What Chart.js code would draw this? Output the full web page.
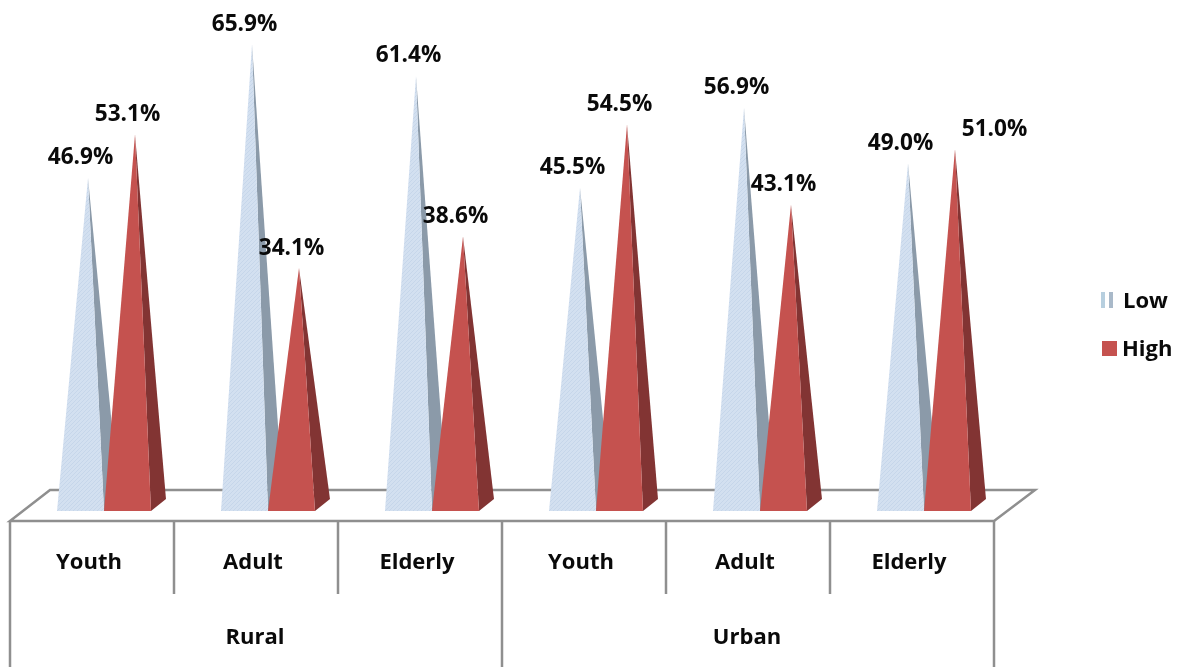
<!DOCTYPE html>
<html>
<head>
<meta charset="utf-8">
<title>Low and High by age group</title>
<script src="https://cdn.jsdelivr.net/npm/chart.js@4"></script>
<style>
    html, body { margin: 0; padding: 0; background: #fff; }
    canvas { display: block; }
</style>
</head>
<body>
<canvas id="chart" width="1182" height="667"></canvas>
<script>
// Data
const ageGroups = ['Youth', 'Adult', 'Elderly', 'Youth', 'Adult', 'Elderly'];
const areas = ['Rural', 'Urban'];
const lowValues = [46.9, 65.9, 61.4, 45.5, 56.9, 49.0];
const highValues = [53.1, 34.1, 38.6, 54.5, 43.1, 51.0];

const FONT_FAMILY = '"Open Sans", sans-serif';
const FONT_SIZE = 22;
const FONT = `bold ${FONT_SIZE}px ${FONT_FAMILY}`;
const VALUE_FONT = `bold 22.6px ${FONT_FAMILY}`;
const FLOOR_COLOR = '#8f8f8f';
const TEXT_COLOR = '#0a0a0a';

// Fine dither used on the light faces
function makeLowFill(ctx) {
    const tile = document.createElement('canvas');
    tile.width = 4;
    tile.height = 4;
    const t = tile.getContext('2d');
    t.fillStyle = '#d3e0f0';
    t.fillRect(0, 0, 4, 4);
    t.fillStyle = '#c6d6ea';
    for (let i = 0; i < 4; i++) {
        t.fillRect(i, (3 - i), 1, 1);
    }
    return ctx.createPattern(tile, 'repeat');
}

// Floor of the 3D box and the two-level category grid
function drawFloor(chart) {
    const { ctx } = chart;
    const x = chart.scales.x;
    const left = x.left;
    const right = x.right;
    const slot = x.width / ageGroups.length;

    ctx.save();
    ctx.strokeStyle = FLOOR_COLOR;
    ctx.lineWidth = 2.5;
    ctx.beginPath();
    ctx.moveTo(left, 521);
    ctx.lineTo(left + 40, 490);
    ctx.lineTo(right + 41, 490);
    ctx.lineTo(right, 521);
    ctx.closePath();
    ctx.stroke();

    ctx.beginPath();
    for (let i = 0; i <= ageGroups.length; i++) {
        const px = left + slot * i;
        const isGroupEdge = i % 3 === 0;
        ctx.moveTo(px, 521);
        ctx.lineTo(px, isGroupEdge ? 667 : 594);
    }
    ctx.stroke();
    ctx.restore();
}

// Each bar is replaced by a pyramid standing on the floor
function drawPyramids(chart) {
    const { ctx } = chart;
    const lowFill = makeLowFill(ctx);
    const styles = [
        { front: lowFill, side: '#8b9aa9' },
        { front: '#c5524f', side: '#823433' }
    ];

    ageGroups.forEach((_, index) => {
        [0, 1].forEach(datasetIndex => {
            const bar = chart.getDatasetMeta(datasetIndex).data[index];
            const style = styles[datasetIndex];
            const half = bar.width / 2;
            const cx = bar.x + 12;
            const frontY = bar.base + 3;
            const backY = bar.base - 9;
            const apexX = cx + 7.5;

            ctx.fillStyle = style.side;
            ctx.beginPath();
            ctx.moveTo(cx + half, frontY);
            ctx.lineTo(cx + half + 15, backY);
            ctx.lineTo(apexX, bar.y);
            ctx.closePath();
            ctx.fill();

            ctx.fillStyle = style.front;
            ctx.beginPath();
            ctx.moveTo(cx - half, frontY);
            ctx.lineTo(cx + half, frontY);
            ctx.lineTo(apexX, bar.y);
            ctx.closePath();
            ctx.fill();
        });
    });
}

// Percent labels above the apex of each pyramid
function drawValueLabels(chart) {
    const { ctx } = chart;
    ctx.save();
    ctx.font = VALUE_FONT;
    ctx.fillStyle = TEXT_COLOR;
    ctx.textAlign = 'center';
    ctx.textBaseline = 'middle';
    chart.data.datasets.forEach((dataset, datasetIndex) => {
        chart.getDatasetMeta(datasetIndex).data.forEach((bar, index) => {
            // last label sits to the right of its pyramid
            const shift = (datasetIndex === 1 && index === 5) ? 47 : 0;
            ctx.fillText(dataset.data[index].toFixed(1) + '%', bar.x + 12 + shift, bar.y - 20);
        });
    });
    ctx.restore();
}

function drawAreaLabels(chart) {
    const { ctx } = chart;
    const x = chart.scales.x;
    ctx.save();
    ctx.font = FONT;
    ctx.fillStyle = TEXT_COLOR;
    ctx.textAlign = 'center';
    ctx.textBaseline = 'middle';
    areas.forEach((area, i) => {
        const middle = x.getPixelForTick(i * 3 + 1);
        ctx.fillText(area, middle - 1, 638);
    });
    ctx.restore();
}

function drawLegend(chart) {
    const { ctx } = chart;
    ctx.save();
    ctx.fillStyle = '#b7cfdf';
    ctx.fillRect(1101, 292, 4, 16);
    ctx.fillStyle = '#a9b9c9';
    ctx.fillRect(1109, 292, 4, 16);
    ctx.fillStyle = '#c5524f';
    ctx.fillRect(1102, 341, 15, 15);

    ctx.font = FONT;
    ctx.fillStyle = TEXT_COLOR;
    ctx.textBaseline = 'middle';
    ctx.fillText(chart.data.datasets[0].label, 1123, 302);
    ctx.fillText(chart.data.datasets[1].label, 1122, 350);
    ctx.restore();
}

const pyramidPlugin = {
    id: 'pyramids',
    beforeDatasetsDraw(chart) {
        drawFloor(chart);
    },
    afterDatasetsDraw(chart) {
        drawPyramids(chart);
        drawValueLabels(chart);
        drawAreaLabels(chart);
        drawLegend(chart);
    }
};

new Chart(document.getElementById('chart'), {
    type: 'bar',
    data: {
        labels: ageGroups,
        datasets: [
            { label: 'Low', data: lowValues, backgroundColor: 'transparent' },
            { label: 'High', data: highValues, backgroundColor: 'transparent' }
        ]
    },
    options: {
        responsive: false,
        animation: false,
        layout: { padding: { left: 10, right: 188, top: 0, bottom: 0 } },
        categoryPercentage: 0.573,
        barPercentage: 1,
        plugins: {
            legend: { display: false },
            tooltip: { enabled: false }
        },
        scales: {
            x: {
                grid: { display: false, drawTicks: false },
                border: { display: false },
                afterFit(scale) { scale.height = 159; },
                ticks: {
                    font: { family: FONT_FAMILY, size: FONT_SIZE, weight: 'bold' },
                    color: TEXT_COLOR,
                    padding: 42,
                    labelOffset: -3,
                    maxRotation: 0,
                    autoSkip: false
                }
            },
            y: {
                display: false,
                min: 0,
                max: 72.2
            }
        }
    },
    plugins: [pyramidPlugin]
});
</script>
</body>
</html>
